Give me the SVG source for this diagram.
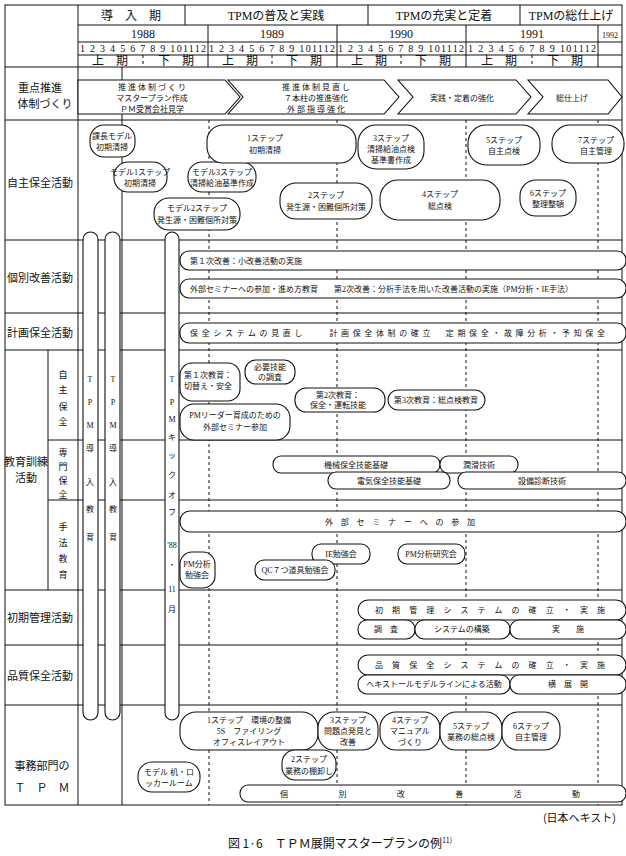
<svg xmlns="http://www.w3.org/2000/svg" width="626" height="856" viewBox="0 0 626 856">
<style>
text{font-family:"Liberation Serif","Noto Sans CJK JP",serif;fill:#111;text-anchor:middle}
.h{font-size:12px}.m{font-size:10px}.s{font-size:8px}.l{font-size:11px;font-family:"Noto Sans CJK JP",sans-serif}
.v{font-size:9px;font-family:"Noto Sans CJK JP",sans-serif}
.b{fill:#fff;stroke:#111;stroke-width:1.1}
.g{stroke:#111;stroke-width:1;fill:none}
.d{stroke:#111;stroke-width:1;stroke-dasharray:3,3;fill:none}
</style>
<rect width="626" height="856" fill="#fff"/>
<g id="grid">
<rect x="5" y="5" width="617" height="800" class="g"/>
<path class="g" d="M78 5V805M78 25H622M78 42H622M78 55H622M5 67H622M5 120H622M5 240H622M5 313H622M5 350H622M48 440H622M48 500H622M5 590H622M5 645H622M5 705H622M48 350V590M122 67V805M185 5V25M368 5V25M520 5V25M208 25V67M337 25V67M466 25V67M598 25V67"/>
<path class="d" d="M143 55V67M272 55V67M401 55V67M532 55V67M209 120V805M337 120V805M466 120V805M598 120V805"/>
</g>
<g id="header">
<text class="h" x="131" y="20">導　入　期</text>
<text class="h" x="276" y="20">TPMの普及と実践</text>
<text class="h" x="444" y="20">TPMの充実と定着</text>
<text class="h" x="571" y="20">TPMの総仕上げ</text>
<text class="h" x="143" y="38">1988</text><text class="h" x="272" y="38">1989</text><text class="h" x="401" y="38">1990</text><text class="h" x="532" y="38">1991</text><text class="s" x="610" y="38">1992</text>
<text class="m" x="143" y="52" textLength="126">1 2 3 4 5 6 7 8 9 101112</text>
<text class="m" x="272" y="52" textLength="126">1 2 3 4 5 6 7 8 9 101112</text>
<text class="m" x="401" y="52" textLength="126">1 2 3 4 5 6 7 8 9 101112</text>
<text class="m" x="532" y="52" textLength="128">1 2 3 4 5 6 7 8 9 101112</text>
<text class="h" x="110" y="65">上　期</text><text class="h" x="176" y="65">下　期</text>
<text class="h" x="240" y="65">上　期</text><text class="h" x="304" y="65">下　期</text>
<text class="h" x="369" y="65">上　期</text><text class="h" x="433" y="65">下　期</text>
<text class="h" x="499" y="65">上　期</text><text class="h" x="565" y="65">下　期</text>
</g>
<g id="labels">
<text class="l" x="40" y="92">重点推進</text><text class="l" x="45" y="108">体制づくり</text>
<text class="l" x="40" y="187">自主保全活動</text>
<text class="l" x="40" y="282">個別改善活動</text>
<text class="l" x="40" y="337">計画保全活動</text>
<text class="l" x="26" y="466">教育訓練</text><text class="l" x="26" y="482">活動</text>
<text class="v" x="63" y="378">自</text><text class="v" x="63" y="393">主</text><text class="v" x="63" y="410">保</text><text class="v" x="63" y="425">全</text>
<text class="v" x="63" y="456">専</text><text class="v" x="63" y="470">門</text><text class="v" x="63" y="484">保</text><text class="v" x="63" y="498">全</text>
<text class="v" x="63" y="530">手</text><text class="v" x="63" y="546">法</text><text class="v" x="63" y="562">教</text><text class="v" x="63" y="578">育</text>
<text class="l" x="40" y="622">初期管理活動</text>
<text class="l" x="40" y="680">品質保全活動</text>
<text class="l" x="42" y="770">事務部門の</text><text class="l" x="42" y="792">Ｔ　Ｐ　Ｍ</text>
</g>
<g id="arrows">
<polygon class="b" points="78,80 225,80 240,97 225,114 78,114"/>
<polygon class="b" points="228,80 384,80 399,97 384,114 228,114 243,97"/>
<polygon class="b" points="398,80 516,80 531,97 516,114 398,114 413,97"/>
<polygon class="b" points="528,80 608,80 622,97 608,114 528,114 543,97"/>
<text class="s" x="152" y="90">推 進 体 制 づ く り</text><text class="s" x="152" y="101">マスタープラン作成</text><text class="s" x="152" y="112">ＰＭ受賞会社見学</text>
<text class="s" x="316" y="90">推 進 体 制 見 直 し</text><text class="s" x="316" y="101">７本柱の推進強化</text><text class="s" x="316" y="112">外 部 指 導 強 化</text>
<text class="s" x="462" y="101">実践・定着の強化</text>
<text class="s" x="572" y="101">総仕上げ</text>
</g>
<g id="pillars">
<rect class="b" x="83" y="232" width="15" height="488" rx="7.5"/>
<rect class="b" x="105" y="232" width="15" height="488" rx="7.5"/>
<rect class="b" x="165" y="232" width="14" height="488" rx="7"/>
<text class="s" x="90" y="382">T</text><text class="s" x="90" y="405">P</text><text class="s" x="90" y="428">M</text><text class="s" x="90" y="451">導</text><text class="s" x="90" y="485">入</text><text class="s" x="90" y="512">教</text><text class="s" x="90" y="540">育</text>
<text class="s" x="113" y="382">T</text><text class="s" x="113" y="405">P</text><text class="s" x="113" y="428">M</text><text class="s" x="113" y="451">導</text><text class="s" x="113" y="485">入</text><text class="s" x="113" y="512">教</text><text class="s" x="113" y="540">育</text>
<text class="s" x="172" y="382">T</text><text class="s" x="172" y="405">P</text><text class="s" x="172" y="422">M</text><text class="s" x="172" y="440">キ</text><text class="s" x="172" y="458">ッ</text><text class="s" x="172" y="478">ク</text><text class="s" x="172" y="498">オ</text><text class="s" x="172" y="515">フ</text><text class="s" x="172" y="548">'88</text><text class="s" x="172" y="568">・</text><text class="s" x="172" y="592">11</text><text class="s" x="172" y="612">月</text>
</g>
<g id="jishu">
<rect class="b" x="90" y="125" width="45" height="32" rx="14"/><text class="s" x="112" y="139">課長モデル</text><text class="s" x="112" y="150">初期清掃</text>
<rect class="b" x="114" y="162" width="53" height="30" rx="14"/><text class="s" x="140" y="175">モデル1ステップ</text><text class="s" x="140" y="186">初期清掃</text>
<rect class="b" x="188" y="162" width="68" height="30" rx="14"/><text class="s" x="222" y="175">モデル3ステップ</text><text class="s" x="222" y="186">清掃給油基準作成</text>
<rect class="b" x="154" y="198" width="86" height="32" rx="15"/><text class="s" x="197" y="211">モデル2ステップ</text><text class="s" x="197" y="223">発生源・困難個所対策</text>
<rect class="b" x="207" y="125" width="149" height="38" rx="16"/><text class="s" x="265" y="141">1ステップ</text><text class="s" x="265" y="153">初期清掃</text>
<rect class="b" x="280" y="183" width="92" height="36" rx="16"/><text class="s" x="326" y="198">2ステップ</text><text class="s" x="326" y="210">発生源・困難個所対策</text>
<rect class="b" x="358" y="125" width="66" height="44" rx="18"/><text class="s" x="391" y="141">3ステップ</text><text class="s" x="391" y="152">清掃給油点検</text><text class="s" x="391" y="163">基準書作成</text>
<rect class="b" x="380" y="180" width="120" height="40" rx="18"/><text class="s" x="440" y="197">4ステップ</text><text class="s" x="440" y="209">総点検</text>
<rect class="b" x="468" y="125" width="72" height="40" rx="18"/><text class="s" x="504" y="143">5ステップ</text><text class="s" x="504" y="154">自主点検</text>
<rect class="b" x="520" y="180" width="56" height="36" rx="16"/><text class="s" x="548" y="196">6ステップ</text><text class="s" x="548" y="207">整理整頓</text>
<rect class="b" x="552" y="125" width="72" height="38" rx="18"/><text class="s" x="596" y="143">7ステップ</text><text class="s" x="596" y="154">自主管理</text>
</g>
<g id="kobetsu">
<rect class="b" x="180" y="251" width="446" height="19" rx="9"/><text class="s" x="190" y="264" style="text-anchor:start">第１次改善：小改善活動の実施</text>
<rect class="b" x="180" y="279" width="446" height="19" rx="9"/><text class="s" x="190" y="292" style="text-anchor:start">外部セミナーへの参加・進め方教育　　第2次改善：分析手法を用いた改善活動の実施（PM分析・IE手法）</text>
</g>
<g id="keikaku">
<rect class="b" x="180" y="323" width="446" height="20" rx="9"/><text class="s" x="190" y="336" style="text-anchor:start" textLength="415">保全システムの見直し　　計画保全体制の確立　定期保全・故障分析・予知保全</text>
</g>
<g id="kyoiku">
<rect class="b" x="180" y="363" width="60" height="38" rx="12"/><text class="s" x="208" y="378">第１次教育：</text><text class="s" x="208" y="389">切替え・安全</text>
<rect class="b" x="245" y="360" width="50" height="24" rx="11"/><text class="s" x="270" y="370">必要技能</text><text class="s" x="270" y="380">の調査</text>
<rect class="b" x="295" y="388" width="90" height="24" rx="11"/><text class="s" x="338" y="398">第2次教育：</text><text class="s" x="338" y="408">保全・運転技能</text>
<rect class="b" x="388" y="390" width="97" height="20" rx="10"/><text class="s" x="436" y="403">第3次教育：総点検教育</text>
<rect class="b" x="180" y="404" width="110" height="36" rx="14"/><text class="s" x="235" y="418">PMリーダー育成のための</text><text class="s" x="235" y="430">外部セミナー参加</text>
<rect class="b" x="273" y="456" width="167" height="17" rx="8"/><text class="s" x="356" y="468">機械保全技能基礎</text>
<rect class="b" x="440" y="456" width="78" height="17" rx="8"/><text class="s" x="479" y="468">潤滑技術</text>
<rect class="b" x="328" y="472" width="122" height="17" rx="8"/><text class="s" x="389" y="484">電気保全技能基礎</text>
<rect class="b" x="458" y="472" width="168" height="17" rx="8"/><text class="s" x="542" y="484">設備診断技術</text>
<rect class="b" x="180" y="511" width="446" height="21" rx="10"/><text class="s" x="400" y="525" textLength="150">外部セミナーへの参加</text>
<rect class="b" x="180" y="552" width="35" height="36" rx="12"/><text class="s" x="197" y="567">PM分析</text><text class="s" x="197" y="578">勉強会</text>
<rect class="b" x="312" y="544" width="58" height="20" rx="9"/><text class="s" x="341" y="557">IE勉強会</text>
<rect class="b" x="255" y="560" width="80" height="20" rx="9"/><text class="s" x="295" y="573">QC７つ道具勉強会</text>
<rect class="b" x="398" y="544" width="67" height="20" rx="9"/><text class="s" x="431" y="557">PM分析研究会</text>
</g>
<g id="shoki">
<rect class="b" x="358" y="600" width="268" height="20" rx="10"/><text class="s" x="490" y="613" textLength="230">初期管理システムの確立・実施</text>
<rect class="b" x="358" y="620" width="57" height="19" rx="9"/><text class="s" x="386" y="632">調　査</text>
<rect class="b" x="415" y="620" width="95" height="19" rx="9"/><text class="s" x="462" y="632">システムの構築</text>
<rect class="b" x="510" y="620" width="116" height="19" rx="9"/><text class="s" x="568" y="632">実　　施</text>
</g>
<g id="hinshitsu">
<rect class="b" x="358" y="655" width="268" height="20" rx="10"/><text class="s" x="490" y="668" textLength="230">品質保全システムの確立・実施</text>
<rect class="b" x="358" y="675" width="152" height="19" rx="9"/><text class="s" x="434" y="687">ヘキストールモデルラインによる活動</text>
<rect class="b" x="510" y="675" width="116" height="19" rx="9"/><text class="s" x="568" y="687">横　展　開</text>
</g>
<g id="jimu">
<rect class="b" x="180" y="712" width="138" height="38" rx="16"/><text class="s" x="249" y="723">1ステップ　環境の整備</text><text class="s" x="249" y="734">5S　ファイリング</text><text class="s" x="249" y="745">オフィスレイアウト</text>
<rect class="b" x="318" y="712" width="60" height="38" rx="16"/><text class="s" x="348" y="723">3ステップ</text><text class="s" x="348" y="734">問題点発見と</text><text class="s" x="348" y="745">改善</text>
<rect class="b" x="380" y="712" width="60" height="38" rx="16"/><text class="s" x="410" y="723">4ステップ</text><text class="s" x="410" y="734">マニュアル</text><text class="s" x="410" y="745">づくり</text>
<rect class="b" x="440" y="712" width="62" height="38" rx="16"/><text class="s" x="471" y="729">5ステップ</text><text class="s" x="471" y="740">業務の総点検</text>
<rect class="b" x="502" y="712" width="58" height="38" rx="16"/><text class="s" x="531" y="729">6ステップ</text><text class="s" x="531" y="740">自主管理</text>
<rect class="b" x="282" y="750" width="54" height="30" rx="13"/><text class="s" x="309" y="762">2ステップ</text><text class="s" x="309" y="774">業務の棚卸し</text>
<rect class="b" x="138" y="762" width="62" height="30" rx="14"/><text class="s" x="169" y="775">モデル 机・ロ</text><text class="s" x="169" y="786">ッカールーム</text>
<rect class="b" x="240" y="785" width="386" height="17" rx="8"/><text class="s" x="430" y="797" textLength="300">個　別　改　善　活　動</text>
</g>
<g id="notes">
<text class="l" x="616" y="822" style="text-anchor:end">(日本ヘキスト)</text>
<text class="l" x="340" y="848" style="font-size:12px">図 1·6　ＴＰＭ展開マスタープランの例<tspan style="font-size:7px" dy="-5">11)</tspan></text>
</g>
</svg>
